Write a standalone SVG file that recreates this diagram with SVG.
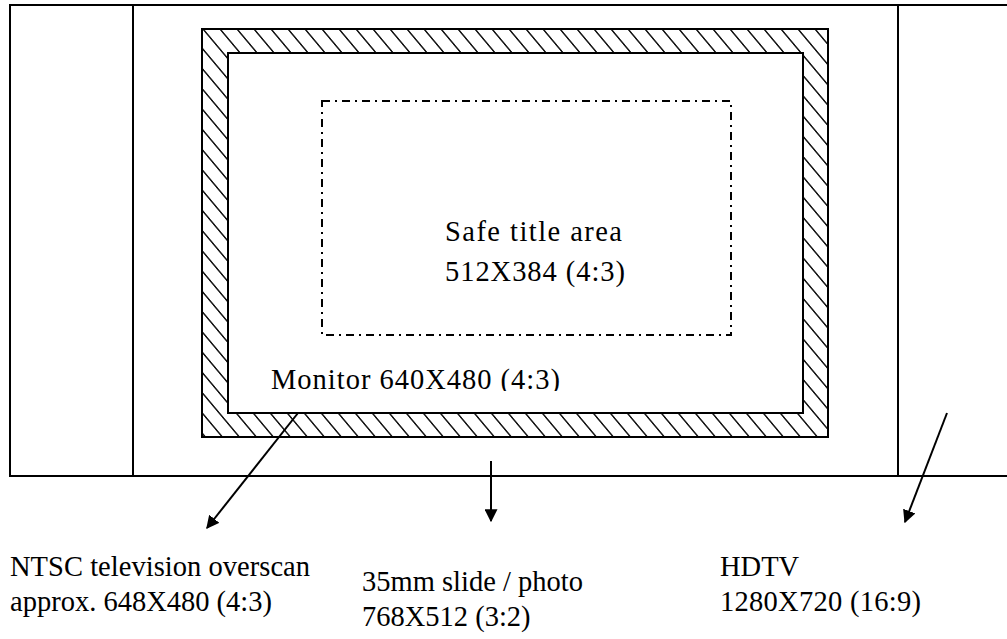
<svg xmlns="http://www.w3.org/2000/svg" width="1007" height="639" viewBox="0 0 1007 639">
<style>
.ln{stroke:#000;stroke-width:2;fill:none}
.t{font-family:"Liberation Serif","Times New Roman",serif;font-size:28.5px;fill:#000}
</style>
<defs>
<pattern id="hatch" patternUnits="userSpaceOnUse" width="17" height="17" patternTransform="translate(202,29) skewX(40)">
<path d="M1,-1 V18" stroke="#000" stroke-width="1.8"/>
</pattern>
<marker id="ah" viewBox="0 0 10 10" refX="9" refY="5" markerWidth="6.5" markerHeight="6.5" orient="auto" markerUnits="strokeWidth">
<path d="M0,0 L10,5 L0,10 z" fill="#000"/>
</marker>
<clipPath id="monclip"><rect x="229" y="340" width="572" height="51"/></clipPath>
</defs>
<rect width="1007" height="639" fill="#fff"/>
<g id="hdtv-frame">
<path class="ln" d="M1010,5 L10,5 L10,476 L1010,476"/>
<line class="ln" x1="133" y1="5" x2="133" y2="476"/>
<line class="ln" x1="898" y1="5" x2="898" y2="476"/>
</g>
<g id="ntsc-overscan">
<path d="M202,29 H828 V437 H202 Z M228,53 V413 H803 V53 Z" fill="url(#hatch)" fill-rule="evenodd" stroke="#000" stroke-width="2"/>
</g>
<g id="safe-title">
<rect x="322" y="101" width="409" height="234" fill="none" stroke="#000" stroke-width="2" stroke-dasharray="8 5 2 5"/>
<text class="t" x="445" y="241" textLength="177" lengthAdjust="spacing">Safe title area</text>
<text class="t" x="445" y="281" textLength="180" lengthAdjust="spacing">512X384 (4:3)</text>
</g>
<g id="monitor">
<text class="t" x="271" y="389" clip-path="url(#monclip)" textLength="289" lengthAdjust="spacing">Monitor 640X480 (4:3)</text>
</g>
<g id="connectors">
<line class="ln" x1="298" y1="413" x2="207" y2="528" marker-end="url(#ah)"/>
<line class="ln" x1="491" y1="461" x2="491" y2="521" marker-end="url(#ah)"/>
<line class="ln" x1="947" y1="413" x2="905" y2="522" marker-end="url(#ah)"/>
</g>
<g id="label-ntsc">
<text class="t" x="10" y="576" textLength="300" lengthAdjust="spacing">NTSC television overscan</text>
<text class="t" x="10" y="611">approx. 648X480 (4:3)</text>
</g>
<g id="label-35mm">
<text class="t" x="362" y="591" textLength="221" lengthAdjust="spacing">35mm slide / photo</text>
<text class="t" x="362" y="626">768X512 (3:2)</text>
</g>
<g id="label-hdtv">
<text class="t" x="720" y="576">HDTV</text>
<text class="t" x="720" y="611" textLength="201" lengthAdjust="spacing">1280X720 (16:9)</text>
</g>
</svg>
